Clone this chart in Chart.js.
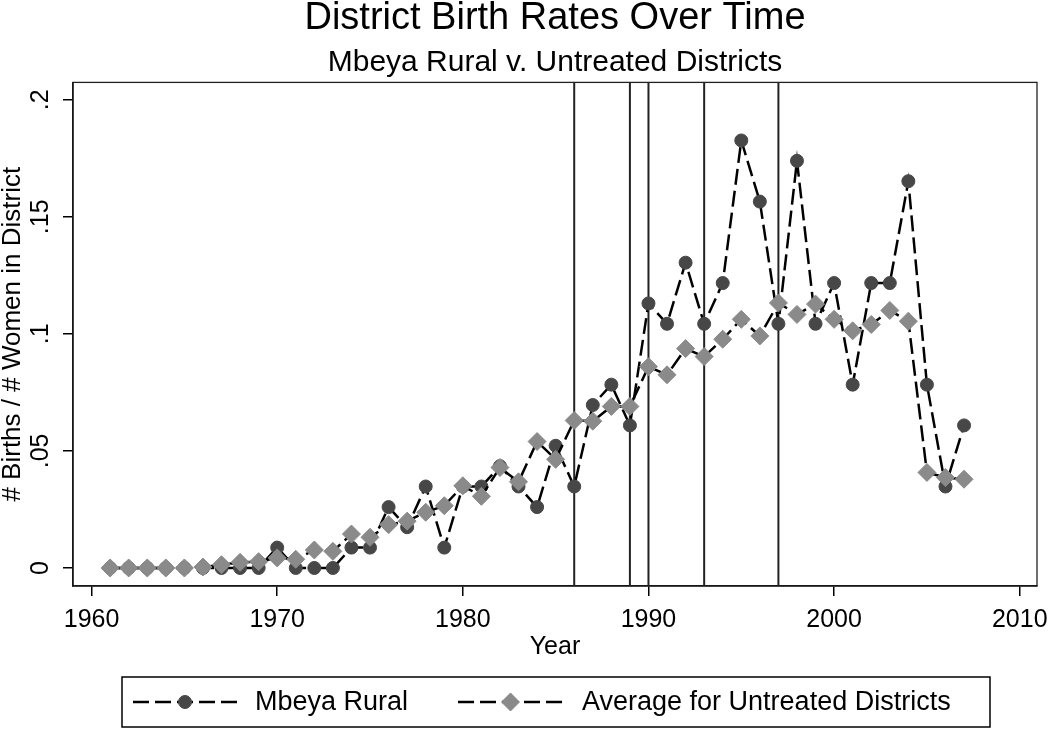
<!DOCTYPE html>
<html>
<head>
<meta charset="utf-8">
<title>District Birth Rates Over Time</title>
<script src="https://cdn.jsdelivr.net/npm/chart.js@4.4.1/dist/chart.umd.min.js"></script>
<style>
  html, body { margin: 0; padding: 0; background: #fff; }
</style>
</head>
<body>
<canvas id="birthChart" width="1050" height="730"></canvas>
<script>
// years covered by both series
const years = [1961, 1962, 1963, 1964, 1965, 1966, 1967, 1968, 1969, 1970,
               1971, 1972, 1973, 1974, 1975, 1976, 1977, 1978, 1979, 1980,
               1981, 1982, 1983, 1984, 1985, 1986, 1987, 1988, 1989, 1990,
               1991, 1992, 1993, 1994, 1995, 1996, 1997, 1998, 1999, 2000,
               2001, 2002, 2003, 2004, 2005, 2006, 2007];

const mbeyaRural = [0, 0, 0, 0, 0, 0, 0, 0, 0, 0.0087,
                    0, 0, 0, 0.0087, 0.0087, 0.026, 0.0174, 0.0348, 0.0087, 0.0348,
                    0.0348, 0.0435, 0.0348, 0.026, 0.0522, 0.0348, 0.0696, 0.0783, 0.0609, 0.113,
                    0.1043, 0.1304, 0.1043, 0.1217, 0.1826, 0.1565, 0.1043, 0.1739, 0.1043, 0.1217,
                    0.0783, 0.1217, 0.1217, 0.1652, 0.0783, 0.0348, 0.0609];

const untreatedAvg = [0, 0, 0, 0, 0, 0.0004, 0.0014, 0.0024, 0.0027, 0.0043,
                      0.0037, 0.0077, 0.0071, 0.0145, 0.0131, 0.0185, 0.02, 0.0238, 0.0266, 0.0351,
                      0.0306, 0.0429, 0.0368, 0.054, 0.0464, 0.063, 0.0627, 0.069, 0.069, 0.086,
                      0.0825, 0.0937, 0.0903, 0.0977, 0.1062, 0.0991, 0.1132, 0.1083, 0.1127, 0.1062,
                      0.1013, 0.104, 0.110, 0.1054, 0.0408, 0.0386, 0.0379];

// vertical reference lines
const markedYears = [1986, 1989, 1990, 1993, 1997];

const xTicks = [1960, 1970, 1980, 1990, 2000, 2010];
const yTicks = [0, 0.05, 0.1, 0.15, 0.2];
const yTickLabels = ['0', '.05', '.1', '.15', '.2'];

const FONT = "'Liberation Sans', Arial, Helvetica, sans-serif";
Chart.defaults.font.family = FONT;
Chart.defaults.color = '#000';

const toPoints = (vals) => years.map((yr, i) => ({x: yr, y: vals[i]}));

// plot frame + vertical lines, under the data
const backdrop = {
  id: 'backdrop',
  beforeDatasetsDraw(chart) {
    const {ctx, chartArea: a, scales: {x}} = chart;
    ctx.save();
    ctx.strokeStyle = '#222';
    ctx.lineWidth = 1.3;
    ctx.strokeRect(a.left, a.top, a.right - a.left, a.bottom - a.top);
    ctx.strokeStyle = '#222';
    ctx.lineWidth = 2;
    markedYears.forEach(yr => {
      const px = x.getPixelForValue(yr);
      ctx.beginPath();
      ctx.moveTo(px, a.top);
      ctx.lineTo(px, a.bottom);
      ctx.stroke();
    });
    ctx.restore();
  }
};

// stata style rotated y tick labels
const yLabels = {
  id: 'yLabels',
  afterDraw(chart) {
    const {ctx, scales: {y}} = chart;
    const size = 25;
    const cx = y.right - y.options.grid.tickLength - 9 - size / 2;
    ctx.save();
    ctx.font = size + 'px ' + FONT;
    ctx.fillStyle = '#000';
    ctx.textAlign = 'center';
    ctx.textBaseline = 'middle';
    yTicks.forEach((v, i) => {
      ctx.save();
      ctx.translate(cx, y.getPixelForValue(v));
      ctx.rotate(-Math.PI / 2);
      ctx.fillText(yTickLabels[i], 0, 0);
      ctx.restore();
    });
    ctx.restore();
  }
};

// boxed legend with dashed line + marker keys
const boxLegend = {
  id: 'boxLegend',
  afterDraw(chart) {
    const {ctx} = chart;
    const top = 677, bottom = chart.height - 3, left = 122, right = 990;
    const midY = (top + bottom) / 2;
    const keys = [
      {ds: 0, from: 133, to: 237, text: 255},
      {ds: 1, from: 458, to: 563, text: 582}
    ];
    ctx.save();
    ctx.strokeStyle = '#000';
    ctx.lineWidth = 1.5;
    ctx.strokeRect(left, top, right - left, bottom - top);
    ctx.font = '27px ' + FONT;
    ctx.textBaseline = 'middle';
    ctx.textAlign = 'left';
    keys.forEach(k => {
      const ds = chart.data.datasets[k.ds];
      ctx.save();
      ctx.strokeStyle = ds.borderColor;
      ctx.lineWidth = ds.borderWidth;
      ctx.setLineDash(ds.borderDash);
      ctx.beginPath();
      ctx.moveTo(k.from, midY);
      ctx.lineTo(k.to, midY);
      ctx.stroke();
      ctx.restore();
      ctx.save();
      ctx.fillStyle = ds.pointBackgroundColor;
      ctx.strokeStyle = ds.pointBorderColor;
      ctx.lineWidth = ds.pointBorderWidth;
      Chart.helpers.drawPoint(ctx, {pointStyle: ds.pointStyle, rotation: 0, radius: ds.pointRadius, borderWidth: ds.pointBorderWidth},
        (k.from + k.to) / 2, midY);
      ctx.restore();
      ctx.fillStyle = '#000';
      ctx.fillText(ds.label, k.text, midY + 1);
    });
    ctx.restore();
  }
};

new Chart(document.getElementById('birthChart'), {
  type: 'line',
  data: {
    datasets: [{
      label: 'Mbeya Rural',
      data: toPoints(mbeyaRural),
      borderColor: '#000',
      borderWidth: 2.5,
      borderDash: [16, 6],
      pointStyle: 'circle',
      pointRadius: 6.5,
      pointBorderWidth: 1,
      pointBackgroundColor: '#474747',
      pointBorderColor: '#474747',
      order: 1
    }, {
      label: 'Average for Untreated Districts',
      data: toPoints(untreatedAvg),
      borderColor: '#000',
      borderWidth: 2.5,
      borderDash: [16, 6],
      pointStyle: 'rectRot',
      pointRadius: 9,
      pointBorderWidth: 1,
      pointBackgroundColor: '#8a8a8a',
      pointBorderColor: '#8a8a8a',
      order: 0
    }]
  },
  options: {
    responsive: false,
    animation: false,
    layout: { padding: { left: 0, right: 13, top: 0, bottom: 70 } },
    plugins: {
      legend: { display: false },
      tooltip: { enabled: false },
      title: {
        display: true,
        text: 'District Birth Rates Over Time',
        fullSize: false,
        color: '#000',
        font: { size: 38, weight: 'normal', lineHeight: 0.8 },
        padding: { top: 3, bottom: 14 }
      },
      subtitle: {
        display: true,
        text: 'Mbeya Rural v. Untreated Districts',
        fullSize: false,
        color: '#000',
        font: { size: 30, weight: 'normal', lineHeight: 1 },
        padding: { top: 0, bottom: 5 }
      }
    },
    scales: {
      x: {
        type: 'linear',
        min: 1959,
        max: 2010.93,
        afterBuildTicks: s => { s.ticks = xTicks.map(v => ({value: v})); },
        afterFit: s => { s.height = 74; s.paddingLeft = 0; s.paddingRight = 0; },
        grid: { drawOnChartArea: false, tickLength: 10, color: '#000', lineWidth: 1.5 },
        border: { display: true, color: '#000', width: 1.5 },
        ticks: { font: { size: 25 }, color: '#000', padding: 9, maxRotation: 0, autoSkip: false, callback: v => String(v) },
        title: { display: true, text: 'Year', color: '#000', font: { size: 25, lineHeight: 1 }, padding: 0 }
      },
      y: {
        min: -0.0077,
        max: 0.2074,
        afterBuildTicks: s => { s.ticks = yTicks.map(v => ({value: v})); },
        afterFit: s => { s.width = 73; s.paddingTop = 0; s.paddingBottom = 0; },
        grid: { drawOnChartArea: false, tickLength: 10, color: '#000', lineWidth: 1.5 },
        border: { display: true, color: '#000', width: 1.5 },
        ticks: { display: false },
        title: { display: true, text: '# Births / # Women in District', color: '#000', font: { size: 26, lineHeight: 1 }, padding: 0 }
      }
    }
  },
  plugins: [backdrop, yLabels, boxLegend]
});
</script>
</body>
</html>
